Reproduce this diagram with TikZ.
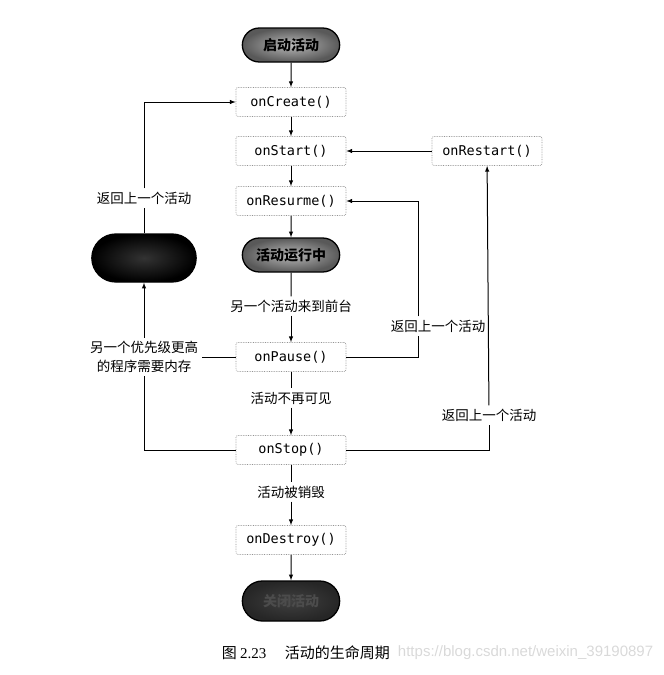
\documentclass[tikz,border=0pt]{standalone}
\usepackage{fontspec}
\setmonofont{DejaVu Sans Mono}
\newfontfamily\cjk{Noto Sans CJK SC}
\newfontfamily\capfont{Liberation Serif}
\newfontfamily\wmfont{Liberation Sans}
\usetikzlibrary{positioning, shapes.misc}

\tikzset{
  method/.style={draw=gray!85, densely dotted, line width=0.7pt, rounded corners=2pt, minimum width=110pt, minimum height=29pt, inner sep=2pt, font=\fontsize{13.5}{16}\ttfamily},
  term/.style={rounded rectangle, draw=black, solid, line width=1.3pt, minimum width=104pt, minimum height=34pt, font=\fontsize{14}{16}\cjk\bfseries},
  lightterm/.style={term, inner color=gray!55, outer color=gray!70!black},
  darkterm/.style={term, inner color=black!80, outer color=black},
  note/.style={font=\fontsize{13.5}{19}\cjk, inner sep=3pt, align=center}
}

\begin{document}
\begin{tikzpicture}[x=1pt, y=-1pt, >=latex, line width=1pt, on grid]
    \useasboundingbox (0,0) rectangle (664,675);

    % Main column
    \node[lightterm] (start) at (291,45) {启动活动};
    \node[method, below=57pt of start] (create) {onCreate()};
    \node[method, below=49pt of create] (startm) {onStart()};
    \node[method, below=50pt of startm] (resume) {onResurme()};
    \node[lightterm, below=54pt of resume] (running) {活动运行中};
    \node[note, below=51pt of running] (fg) {另一个活动来到前台};
    \node[method, below=51pt of fg] (pause) {onPause()};
    \node[note, below=41pt of pause] (invisible) {活动不再可见};
    \node[method, below=52pt of invisible] (stop) {onStop()};
    \node[note, below=42pt of stop] (destroyed) {活动被销毁};
    \node[method, below=48pt of destroyed] (destroy) {onDestroy()};
    \node[darkterm, below=61pt of destroy, minimum height=40pt, inner color=gray!50!black, outer color=black!85, text=black!70] (finish) {关闭活动};

    % Restart
    \node[method, right=196pt of startm] (restart) {onRestart()};

    % Killed process
    \node[darkterm, left=147pt of running, yshift=-3pt, minimum width=111pt, minimum height=48pt] (killed) {};

    % Side labels
    \node[note, above=60pt of killed] (back1) {返回上一个活动};
    \node[note, below=99pt of killed] (memory) {另一个优先级更高\\的程序需要内存};
    \node[note] (back2) at (438,326) {返回上一个活动};
    \node[note] (back3) at (489,415) {返回上一个活动};

    % Arrows
    \draw[->] (start) -- (create);
    \draw[->] (create) -- (startm);
    \draw[->] (startm) -- (resume);
    \draw[->] (resume) -- (running);
    \draw (running) -- (fg);
    \draw[->] (fg) -- (pause);
    \draw (pause) -- (invisible);
    \draw[->] (invisible) -- (stop);
    \draw (stop) -- (destroyed);
    \draw[->] (destroyed) -- (destroy);
    \draw[->] (destroy) -- (finish);
    \draw[->] (restart) -- (startm);

    \draw (killed) -- (back1);
    \draw[->] (back1) |- (create);
    \draw (pause) -- (memory);
    \draw (stop) -| (memory);
    \draw[->] (memory) -- (killed);
    \draw (pause) -| ([xshift=-20pt]back2.south);
    \draw[->] ([xshift=-20pt]back2.north) |- (resume);
    \draw (stop) -| (back3);
    \draw[->] (back3) -- (restart);

    % Caption
    \node[anchor=east, text=gray!30, font=\fontsize{15}{17}\wmfont] (mark) at (657,653) {https://blog.csdn.net/weixin\_39190897};
    \node[anchor=west, font=\fontsize{15}{17}\cjk] (caption) at (218,653) {图 {\capfont 2.23}\quad\ 活动的生命周期};
\end{tikzpicture}
\end{document}
